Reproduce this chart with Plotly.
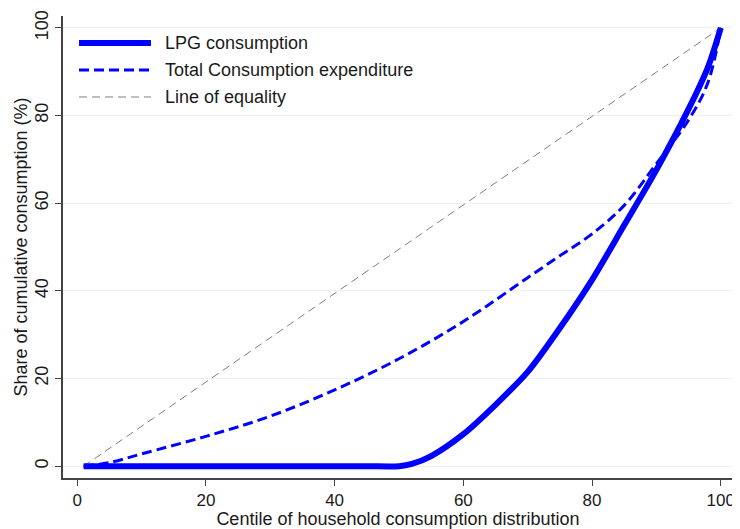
import plotly.graph_objects as go

# Data
centile_lpg = [1, 10, 20, 30, 40, 45, 50, 52, 55, 60, 65, 70, 75, 80, 85, 90, 95, 98, 100]
lpg_share = [0, 0, 0, 0, 0, 0, 0, 0.5, 2.3, 7.3, 14, 21.5, 31.5, 42.5, 55, 67.6, 81.5, 91, 100]

centile_tce = [1, 5, 10, 20, 30, 40, 50, 60, 70, 75, 80, 85, 90, 95, 98, 100]
tce_share = [0, 0.8, 2.8, 6.8, 11.4, 17.4, 24.5, 33, 43, 48, 53, 59.5, 69, 79, 87.5, 100]

centile_eq = [1, 100]
eq_share = [0, 100]

legend_labels = ["LPG consumption", "Total Consumption expenditure", "Line of equality"]
x_ticks = [0, 20, 40, 60, 80, 100]
y_ticks = [0, 20, 40, 60, 80, 100]

BLUE = "#0000ff"
GRAY = "#7f7f7f"
FONT = "Liberation Sans, Arial, Helvetica, sans-serif"

fig = go.Figure()
fig.add_trace(go.Scatter(x=centile_eq, y=eq_share, mode="lines",
                         line=dict(color=GRAY, width=1, dash="8px,5px"),
                         name=legend_labels[2]))
fig.add_trace(go.Scatter(x=centile_tce, y=tce_share, mode="lines",
                         line=dict(color=BLUE, width=3, dash="10px,5px", shape="spline", smoothing=1.0),
                         name=legend_labels[1]))
fig.add_trace(go.Scatter(x=centile_lpg, y=lpg_share, mode="lines",
                         line=dict(color=BLUE, width=6, shape="spline", smoothing=0.8),
                         name=legend_labels[0]))

# Manual legend (Stata-like long samples)
leg_styles = [dict(color=BLUE, width=6), dict(color=BLUE, width=3, dash="10px,5px"),
              dict(color=GRAY, width=1, dash="8px,5px")]
leg_y = [0.9416, 0.883, 0.8247]
for lab, st, yy in zip(legend_labels, leg_styles, leg_y):
    fig.add_shape(type="line", xref="paper", yref="paper", x0=0.0239, x1=0.1313, y0=yy, y1=yy,
                  line=st)
    fig.add_annotation(xref="paper", yref="paper", x=0.149, y=yy, text=lab, showarrow=False,
                       xanchor="left", yanchor="middle", font=dict(size=18, color="#1a1a1a", family=FONT))

# page body has an 8px margin, so the figure is sized/offset to compensate
fig.update_layout(
    width=732, height=521,
    margin=dict(l=55, r=7, t=8, b=51, autoexpand=False),
    paper_bgcolor="white", plot_bgcolor="white",
    showlegend=False,
    font=dict(family=FONT, size=18, color="#1a1a1a"),
)
fig.update_xaxes(range=[-2.2, 101.9], tickvals=x_ticks, ticks="outside", ticklen=6, tickcolor="#444",
                 showline=True, linecolor="#444", linewidth=1.5, showgrid=False, zeroline=False,
                 automargin=False,
                 tickfont=dict(size=17), title=dict(text="Centile of household consumption distribution",
                                                    font=dict(size=18), standoff=1))
fig.update_yaxes(range=[-2.7, 102.7], tickvals=y_ticks, ticks="outside", ticklen=6, tickcolor="#444",
                 showline=True, linecolor="#444", linewidth=1.5, showgrid=True, gridcolor="#eaf0f3",
                 gridwidth=1, zeroline=False, tickangle=-90, automargin=False,
                 tickfont=dict(size=18), title=dict(text="Share of cumulative consumption (%)",
                                                    font=dict(size=18), standoff=0))

fig.write_html("out.html")
